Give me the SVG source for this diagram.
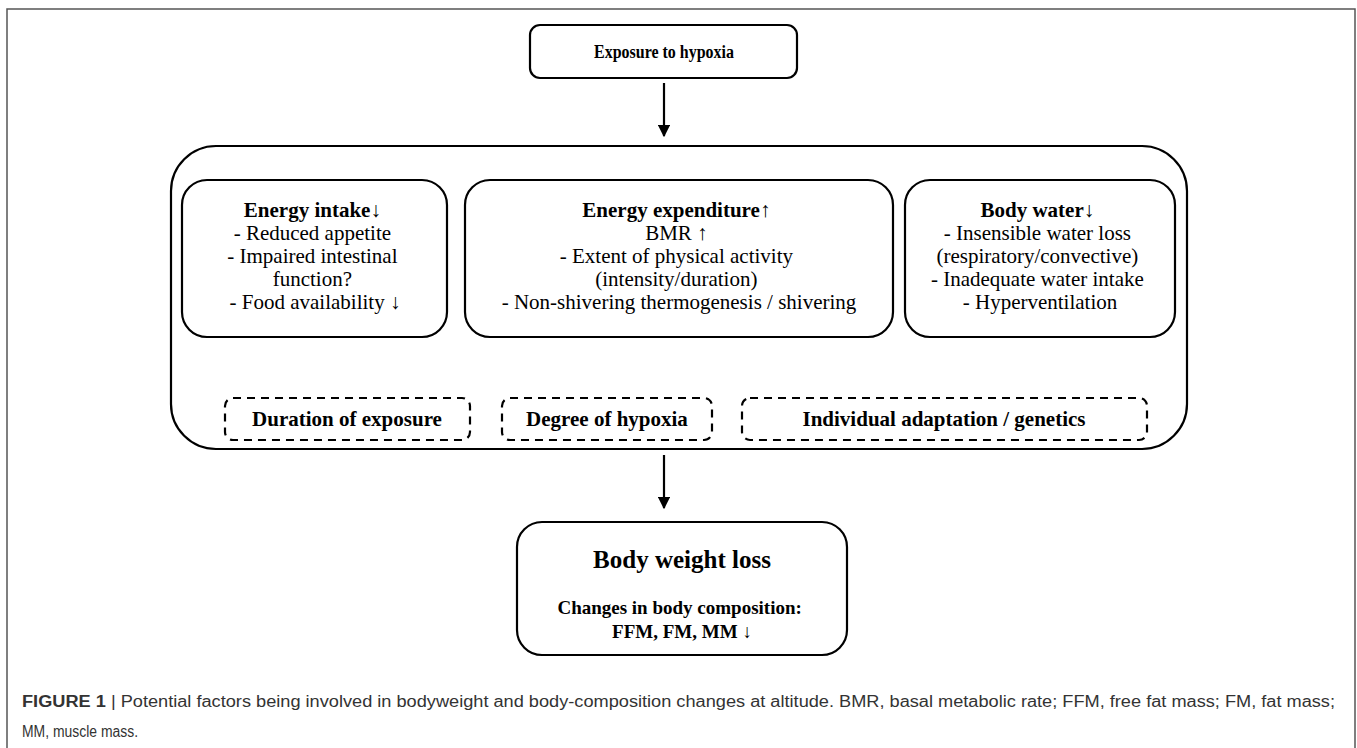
<svg xmlns="http://www.w3.org/2000/svg" width="1357" height="748" viewBox="0 0 1357 748">
<defs>
<style>
.box{fill:#fff;stroke:#000;stroke-width:2.2}
.dash{fill:none;stroke:#000;stroke-width:2.2;stroke-dasharray:8 6}
.t{font-family:"Liberation Serif","DejaVu Serif","Times New Roman",serif;fill:#000;text-anchor:middle}
.b{font-weight:bold}
.cap{font-family:"Liberation Sans",Arial,sans-serif;fill:#333;font-size:16px}
.con{stroke:#000;stroke-width:2.2;fill:none}
</style>
<marker id="ah" viewBox="0 0 10 10" refX="9" refY="5" markerWidth="5.5" markerHeight="5.5" orient="auto" markerUnits="strokeWidth">
<path d="M0,0 L10,5 L0,10 Z" fill="#000"/>
</marker>
</defs>
<rect x="0" y="0" width="1357" height="748" fill="#fff"/>
<rect x="7" y="9" width="1348" height="760" fill="none" stroke="#555" stroke-width="1.5"/>

<g id="n-exposure">
<rect class="box" x="530" y="25" width="267" height="53" rx="10"/>
<text class="t b" x="664" y="58" font-size="18" textLength="140" lengthAdjust="spacingAndGlyphs">Exposure to hypoxia</text>
</g>

<g id="n-factors">
<rect class="box" x="171" y="146" width="1016" height="303" rx="45"/>
</g>

<g id="n-intake">
<rect class="box" x="182" y="180" width="265" height="157" rx="25"/>
<text class="t" x="315" font-size="21">
<tspan class="b" x="315" y="217">Energy intake<tspan font-weight="normal">↓</tspan></tspan>
<tspan x="315" y="240">- Reduced appetite</tspan>
<tspan x="315" y="263">- Impaired intestinal</tspan>
<tspan x="315" y="286">function?</tspan>
<tspan x="315" y="309">- Food availability ↓</tspan>
</text>
</g>

<g id="n-expenditure">
<rect class="box" x="465" y="180" width="428" height="157" rx="25"/>
<text class="t" x="679" font-size="21">
<tspan class="b" x="679" y="217">Energy expenditure<tspan font-weight="normal">↑</tspan></tspan>
<tspan x="679" y="240">BMR ↑</tspan>
<tspan x="679" y="263">- Extent of physical activity</tspan>
<tspan x="679" y="286">(intensity/duration)</tspan>
<tspan x="679" y="309">- Non-shivering thermogenesis / shivering</tspan>
</text>
</g>

<g id="n-water">
<rect class="box" x="905" y="180" width="270" height="157" rx="25"/>
<text class="t" x="1040" font-size="21">
<tspan class="b" x="1040" y="217">Body water<tspan font-weight="normal">↓</tspan></tspan>
<tspan x="1040" y="240">- Insensible water loss</tspan>
<tspan x="1040" y="263">(respiratory/convective)</tspan>
<tspan x="1040" y="286">- Inadequate water intake</tspan>
<tspan x="1040" y="309">- Hyperventilation</tspan>
</text>
</g>

<g id="n-duration">
<rect class="dash" x="225" y="398" width="245" height="42" rx="8"/>
<text class="t b" x="347" y="426" font-size="21">Duration of exposure</text>
</g>
<g id="n-degree">
<rect class="dash" x="502" y="398" width="210" height="42" rx="8"/>
<text class="t b" x="607" y="426" font-size="21">Degree of hypoxia</text>
</g>
<g id="n-individual">
<rect class="dash" x="742" y="398" width="405" height="42" rx="8"/>
<text class="t b" x="944" y="426" font-size="21">Individual adaptation / genetics</text>
</g>

<g id="n-weightloss">
<rect class="box" x="517" y="522" width="330" height="133" rx="25"/>
<text class="t b" x="682" y="568" font-size="25">Body weight loss</text>
<text class="t b" x="682" font-size="19">
<tspan x="682" y="614">Changes in body composition:</tspan>
<tspan x="682" y="638">FFM, FM, MM ↓</tspan>
</text>
</g>

<g id="connectors">
<line class="con" x1="664" y1="83" x2="664" y2="136" marker-end="url(#ah)"/>
<line class="con" x1="664" y1="455" x2="664" y2="508" marker-end="url(#ah)"/>
</g>

<g id="caption">
<text class="cap" x="22" y="707" textLength="1313" lengthAdjust="spacingAndGlyphs"><tspan font-weight="bold">FIGURE 1</tspan> | Potential factors being involved in bodyweight and body-composition changes at altitude. BMR, basal metabolic rate; FFM, free fat mass; FM, fat mass;</text>
<text class="cap" x="22" y="737" textLength="116" lengthAdjust="spacingAndGlyphs">MM, muscle mass.</text>
</g>
</svg>
